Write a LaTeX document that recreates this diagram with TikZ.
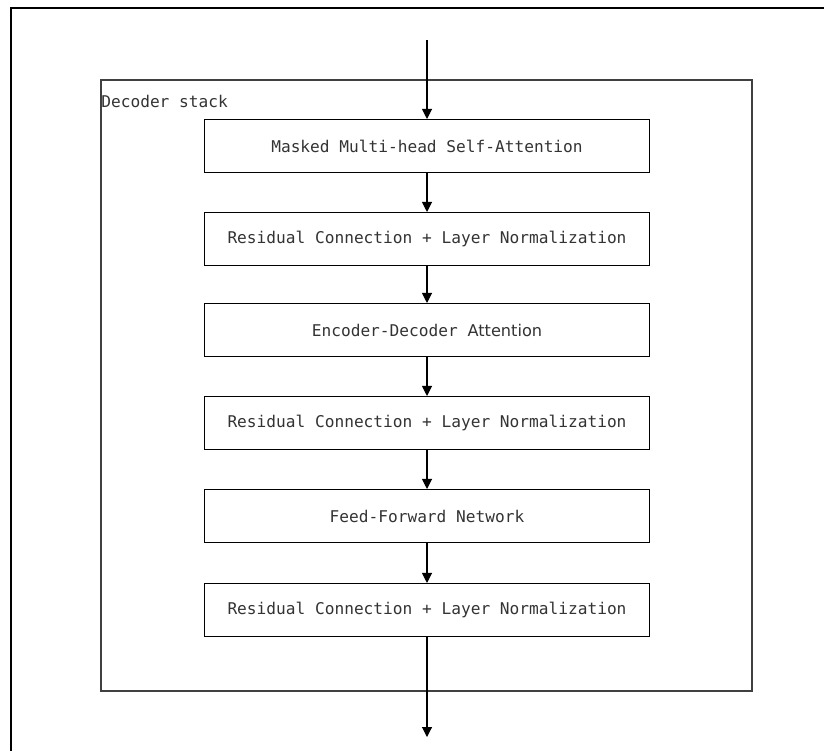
\documentclass[tikz,border=0pt]{standalone}
\usepackage{fontspec}
\setmonofont{DejaVu Sans Mono}
\setsansfont{DejaVu Sans}
\usetikzlibrary{arrows.meta}
\tikzset{
  frame/.style={draw, line width=0.9pt},
  stackbox/.style={draw=black!75, line width=0.9pt, minimum width=13.02cm, minimum height=12.22cm, inner sep=0pt},
  layer/.style={draw, line width=0.6pt, minimum width=8.9cm, minimum height=1.06cm, inner sep=0pt, text=black!80, font=\fontsize{9.2}{11}\selectfont\ttfamily},
  flow/.style={-{Triangle[length=2mm, width=2mm]}, line width=0.6pt},
}

\begin{document}
\begin{tikzpicture}[x=0.02cm, y=-0.02cm]
    \useasboundingbox (0,0) rectangle (824,751);
    \draw[frame] (824,8) -- (11,8) -- (11,751);
    \node[stackbox] (stack) at (426.5,385.5) {};
    \node[anchor=west, inner sep=0pt, text=black!80, font=\fontsize{9.2}{11}\selectfont\ttfamily] (stacklabel) at (101,101) {Decoder stack};
    \node[layer] (masked) at (427,146) {Masked Multi-head Self-Attention};
    \node[layer] (norm1) at (427,239) {Residual Connection + Layer Normalization};
    \node[layer] (cross) at (427,330) {Encoder-Decoder {\sffamily Attention}};
    \node[layer] (norm2) at (427,423) {Residual Connection + Layer Normalization};
    \node[layer] (ffn) at (427,516) {Feed-Forward Network};
    \node[layer] (norm3) at (427,610) {Residual Connection + Layer Normalization};
    \coordinate (input) at (427,40);
    \coordinate (output) at (427,737);
    \draw[flow] (input) -- (masked);
    \draw[flow] (masked) -- (norm1);
    \draw[flow] (norm1) -- (cross);
    \draw[flow] (cross) -- (norm2);
    \draw[flow] (norm2) -- (ffn);
    \draw[flow] (ffn) -- (norm3);
    \draw[flow] (norm3) -- (output);
  \end{tikzpicture}
\end{document}
